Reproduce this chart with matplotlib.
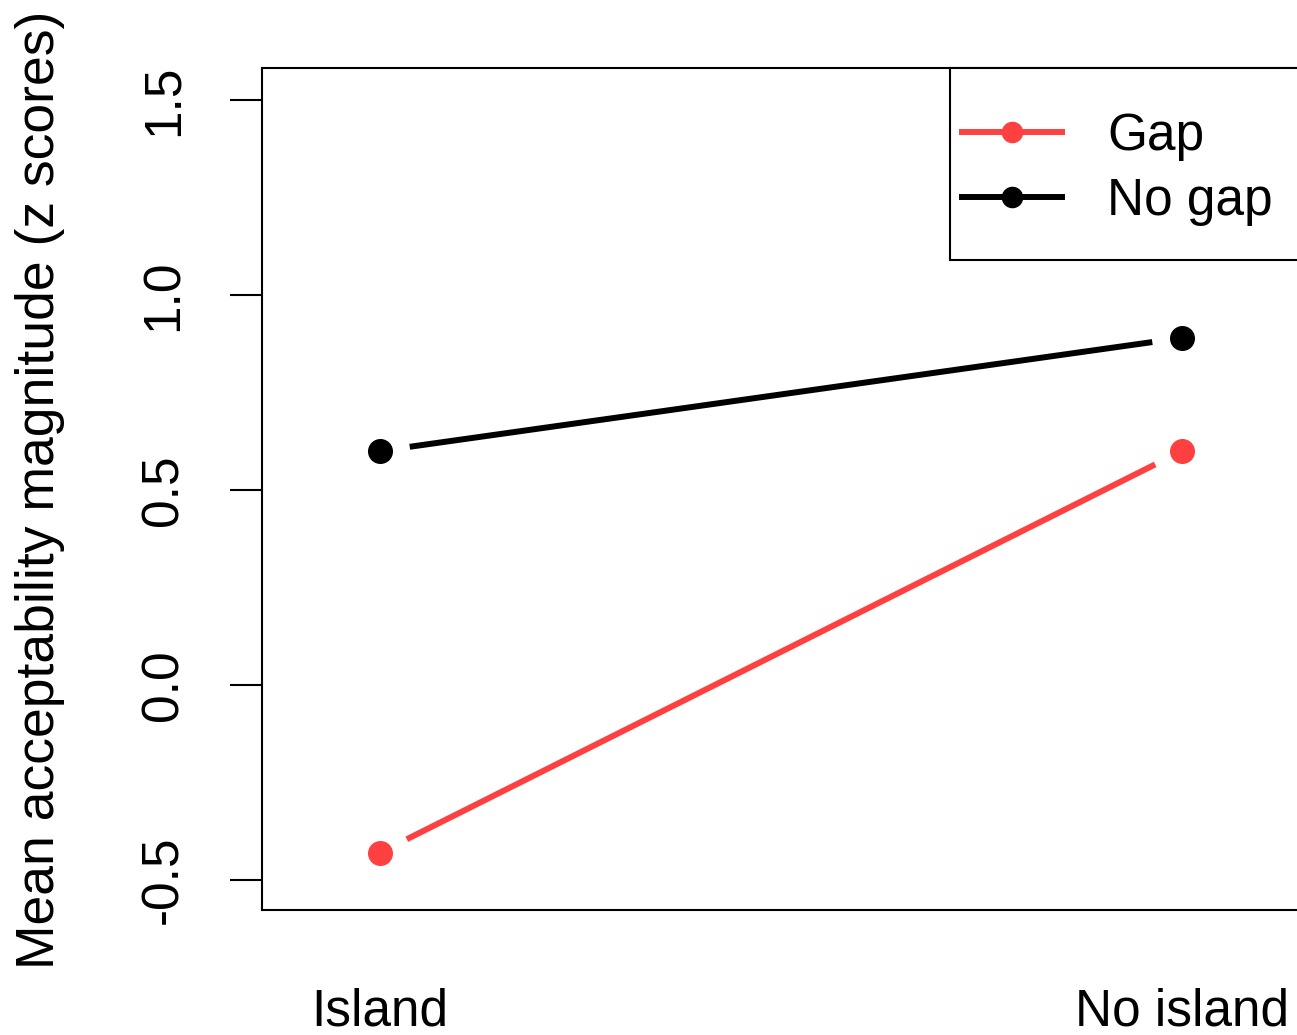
import matplotlib
matplotlib.use("Agg")
import matplotlib.pyplot as plt
from matplotlib.patches import Rectangle
import numpy as np

categories = ["Island", "No island"]
gap_values = [-0.43, 0.60]
nogap_values = [0.60, 0.89]
series_names = ["Gap", "No gap"]
yticks = [-0.5, 0.0, 0.5, 1.0, 1.5]

plt.rcParams['font.family'] = ['Liberation Sans', 'DejaVu Sans']

W, H = 1297, 1035
FS = 37
fig = plt.figure(figsize=(W / 100, H / 100), dpi=100)
ax = fig.add_axes([262 / W, (H - 910) / H, (1362 - 262) / W, (910 - 68) / H])

xpos = np.arange(1, len(categories) + 1)
ax.set_xlim(1 - 118 / 802, 1 + 982 / 802)
ax.set_ylim(-0.577, 1.582)

red = "#FF4040"
colors = [red, "black"]
lw = 4.3
ms = 17
gap_px = 30

fig.canvas.draw()

def draw_series(vals, color, label):
    pts = ax.transData.transform(np.column_stack([xpos, vals]))
    inv = ax.transData.inverted()
    for i in range(len(pts) - 1):
        p0, p1 = pts[i], pts[i + 1]
        d = p1 - p0
        u = d / np.hypot(*d)
        a = inv.transform(p0 + u * gap_px)
        b = inv.transform(p1 - u * gap_px)
        ax.plot([a[0], b[0]], [a[1], b[1]], color=color, lw=lw, solid_capstyle='butt')
    ax.plot(xpos, vals, linestyle='none', marker='o', ms=ms, color=color, mec=color)
    ax.plot([], [], color=color, lw=lw, marker='o', ms=14.5, label=label)

draw_series(gap_values, colors[0], series_names[0])
draw_series(nogap_values, colors[1], series_names[1])

for s in ax.spines.values():
    s.set_linewidth(1.5)
    s.set_color("black")

ax.set_yticks(yticks)
ax.set_yticklabels([f"{v:.1f}" for v in yticks], rotation=90, va='center', fontsize=FS)
ax.tick_params(axis='y', length=23, width=1.5, pad=30)

ax.set_xticks(xpos)
ax.set_xticklabels(categories, fontsize=FS)
ax.tick_params(axis='x', length=0, pad=56)

ax.set_ylabel("Mean acceptability magnitude (z scores)", fontsize=38.5)
ax.yaxis.set_label_coords(40 / W, 1 - 490 / H, transform=fig.transFigure)
ax.yaxis.label.set_va('center')

# legend frame
frame = Rectangle((950 / W, 1 - 260 / H), 0.5, (260 - 68) / H,
                  transform=fig.transFigure, facecolor='white',
                  edgecolor='black', lw=1.5, zorder=4, clip_on=False)
ax.add_patch(frame)
leg = ax.legend(loc='center left', bbox_to_anchor=(962 / W, 1 - 169 / H),
                bbox_transform=fig.transFigure, frameon=False, fontsize=FS,
                handlelength=1.95, handletextpad=0.88, labelspacing=0.33,
                borderpad=0, borderaxespad=0, numpoints=1)
leg.set_zorder(6)

fig.savefig("out.png", dpi=100)
